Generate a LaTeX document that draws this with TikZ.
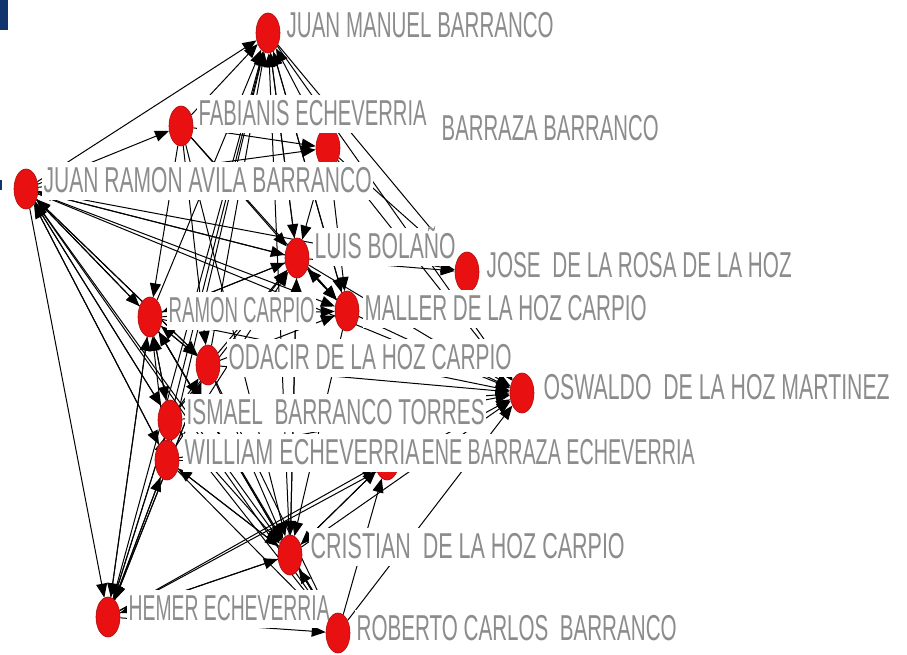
\documentclass[tikz,border=0pt]{standalone}
\usepackage{fontspec}
\usepackage{graphicx}
\usetikzlibrary{shapes.geometric,arrows.meta}
\newfontfamily\labfont{Liberation Sans}
\definecolor{labgray}{RGB}{140,140,140}
\definecolor{nodered}{RGB}{232,16,16}
\definecolor{navyblue}{RGB}{15,52,110}
\newlength\labw
\newcommand\lbl[2]{\settowidth\labw{\labfont\fontsize{36}{36}\selectfont #2}\edef\labsc{\fpeval{#1/\the\labw}}\scalebox{\labsc}[1]{\labfont\fontsize{36}{36}\selectfont #2}}
\pgfdeclarelayer{bglayer}
\pgfdeclarelayer{edgelayer}
\pgfsetlayers{bglayer,edgelayer,main}
\tikzset{
  edge/.style={draw=black, line width=1pt, -{Triangle[length=14pt,width=11pt]}},
  dot/.style={ellipse, minimum width=24pt, minimum height=40pt, inner sep=0pt, fill=nodered, draw=nodered!75!black, line width=0.6pt},
  lab/.style={anchor=base west, fill=white, inner sep=1.5pt, text height=29pt, text depth=6pt, text=labgray}
}
\begin{document}
\begin{tikzpicture}[x=1pt,y=-1pt]
\useasboundingbox (0,0) rectangle (907,655);
\begin{pgfonlayer}{bglayer}
\fill[white] (0,0) rectangle (907,655);
\fill[navyblue] (0,0) rectangle (8,30);
\fill[navyblue] (0,180) rectangle (2,190);
\end{pgfonlayer}
% nodes, drawn in order (circle, then label)
\node[dot] (jmb) at (268,33) {};
\node[lab] (jmbL) at (285,38) {\lbl{267}{JUAN MANUEL BARRANCO}};
\node[dot] (bbz) at (328,148) {};
\node[lab] (bbzL) at (440,141) {\lbl{217}{BARRAZA BARRANCO}};
\node[dot] (fab) at (181,126) {};
\node[lab] (fabL) at (197,126) {\lbl{228}{FABIANIS ECHEVERRIA}};
\node[dot] (jrab) at (26,189) {};
\node[lab] (jrabL) at (42,193) {\lbl{328}{JUAN RAMON AVILA BARRANCO}};
\node[dot] (luis) at (297,258) {};
\node[lab] (luisL) at (313,258) {\lbl{141}{LUIS BOLAÑO}};
\node[dot] (jose) at (467,272) {};
\node[lab] (joseL) at (485,277) {\lbl{305}{JOSE~~DE LA ROSA DE LA HOZ}};
\node[dot] (ramon) at (150,317) {};
\node[lab] (ramonL) at (167,322) {\lbl{146}{RAMON CARPIO}};
\node[dot] (maller) at (347,311) {};
\node[lab] (mallerL) at (363,320) {\lbl{282}{MALLER DE LA HOZ CARPIO}};
\node[dot] (odacir) at (208,365) {};
\node[lab] (odacirL) at (227,369) {\lbl{283}{ODACIR DE LA HOZ CARPIO}};
\node[dot] (osw) at (522,393) {};
\node[lab] (oswL) at (542,399) {\lbl{346}{OSWALDO~~DE LA HOZ MARTINEZ}};
\node[dot] (ismael) at (170,420) {};
\node[lab] (ismaelL) at (185,424) {\lbl{298}{ISMAEL~~BARRANCO TORRES}};
\node[dot] (irene) at (387,460) {};
\node[lab] (ireneL) at (420,464) {\lbl{273}{ENE BARRAZA ECHEVERRIA}};
\node[dot] (william) at (167,460) {};
\node[lab] (williamL) at (183,464) {\lbl{235}{WILLIAM ECHEVERRIA}};
\node[dot] (cris) at (290,555) {};
\node[lab] (crisL) at (309,558) {\lbl{314}{CRISTIAN~~DE LA HOZ CARPIO}};
\node[dot] (hemer) at (108,617) {};
\node[lab] (hemerL) at (127,620) {\lbl{201}{HEMER ECHEVERRIA}};
\node[dot] (rob) at (338,633) {};
\node[lab] (robL) at (355,640) {\lbl{320}{ROBERTO CARLOS~~BARRANCO}};
% edges
\begin{pgfonlayer}{edgelayer}
\foreach \s/\t in {
 jrab/jmb, jrab/fab, jrab/bbz, jrab/luis, jrab/jose, jrab/maller, jrab/ramon, jrab/odacir, jrab/osw, jrab/ismael, jrab/william, jrab/cris, jrab/hemer, jrab/rob,
 ramon/jrab, odacir/jrab, luis/jrab, ismael/jrab, william/jrab,
 fab/jmb, luis/jmb, ramon/jmb, odacir/jmb, ismael/jmb, william/jmb, cris/jmb, hemer/jmb, maller/jmb, bbz/jmb,
 jmb/jose, jmb/osw, jmb/luis, jmb/maller,
 fab/luis, fab/ramon, fab/maller, fab/cris, fab/odacir, fab/bbz,
 bbz/luis, bbz/maller, bbz/jose, bbz/osw,
 luis/jose, luis/maller, luis/osw, luis/ramon, luis/cris,
 ramon/luis, ramon/maller, ramon/osw, ramon/odacir, ramon/cris, ramon/hemer, ramon/rob, ramon/ismael,
 maller/osw, maller/luis, maller/cris,
 odacir/osw, odacir/ramon, odacir/luis, odacir/cris, odacir/hemer, odacir/rob, odacir/maller,
 ismael/osw, ismael/ramon, ismael/luis, ismael/cris, ismael/hemer, ismael/rob, ismael/odacir,
 william/osw, william/ramon, william/luis, william/cris, william/hemer, william/rob, william/irene,
 cris/irene, cris/osw, cris/rob, cris/luis, cris/ramon, cris/hemer, cris/william,
 hemer/cris, hemer/rob, hemer/irene, hemer/osw, hemer/ismael, hemer/william, hemer/ramon, hemer/odacir,
 rob/osw, rob/cris, rob/irene, irene/cris}
 \draw[edge] (\s) -- (\t);
\end{pgfonlayer}
\end{tikzpicture}
\end{document}
